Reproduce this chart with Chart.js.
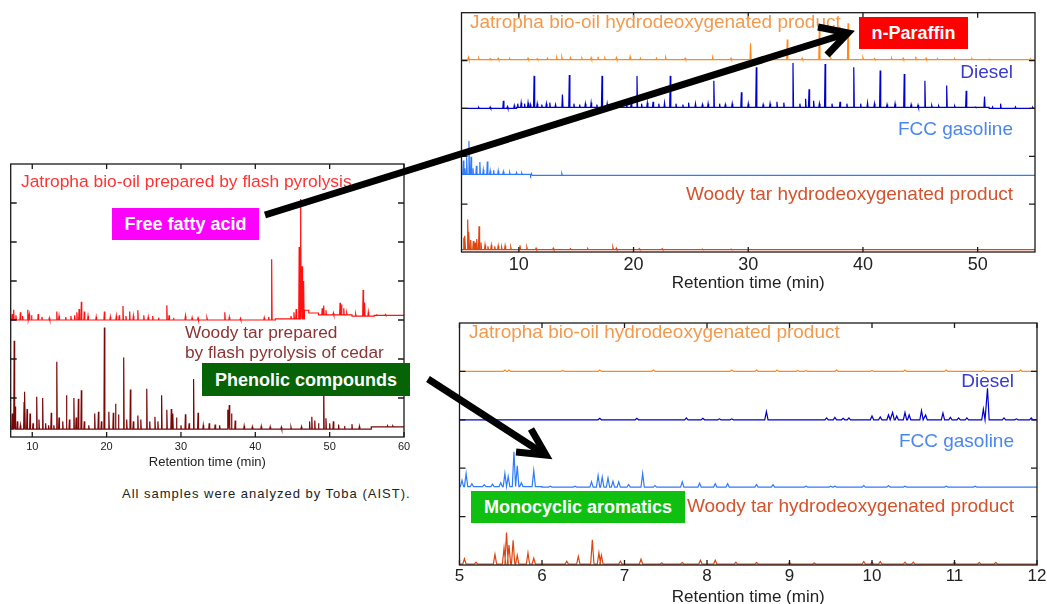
<!DOCTYPE html>
<html lang="en">
<head>
<meta charset="UTF-8">
<title>GC chromatograms: bio-oils, diesel and FCC gasoline</title>
<script src="https://cdn.jsdelivr.net/npm/chart.js"></script>
<style>
  body { margin: 0; width: 1047px; height: 604px; overflow: hidden; background: #fff; position: relative;
         font-family: 'Liberation Sans', Arial, sans-serif; }
  canvas.chart { position: absolute; }
  .lbl { position: absolute; white-space: nowrap; line-height: 1; }
  .box { position: absolute; color: #fff; font-weight: bold; font-size: 18px; line-height: 1;
         display: flex; align-items: center; justify-content: center; white-space: nowrap; }
  svg { position: absolute; left: 0; top: 0; }
</style>
</head>
<body>
  <!-- left panel: flash pyrolysis products -->
  <canvas id="chartA" class="chart" width="420" height="330" style="left:0;top:150px"></canvas>
  <!-- top right: hydrodeoxygenated products vs fuels, 5-55 min -->
  <canvas id="chartB" class="chart" width="597" height="300" style="left:450px;top:0"></canvas>
  <!-- bottom right: same samples, 5-12 min -->
  <canvas id="chartC" class="chart" width="610" height="310" style="left:450px;top:310px"></canvas>

  <div class="lbl" style="left:21px;top:172.5px;font-size:17.4px;color:#ff3333">Jatropha bio-oil prepared by flash pyrolysis</div>
  <div class="lbl" style="left:185px;top:323.5px;font-size:17.3px;color:#8b3535">Woody tar prepared</div>
  <div class="lbl" style="left:185px;top:344px;font-size:17.3px;color:#8b3535">by flash pyrolysis of cedar</div>

  <div class="lbl" style="left:470px;top:11.5px;font-size:19px;color:#f29a4e">Jatropha bio-oil hydrodeoxygenated product</div>
  <div class="lbl" style="right:34px;top:62px;font-size:19px;color:#3a3ad0">Diesel</div>
  <div class="lbl" style="right:34px;top:118.5px;font-size:19px;color:#4a86ee">FCC gasoline</div>
  <div class="lbl" style="right:34px;top:183.5px;font-size:19px;color:#d4522c">Woody tar hydrodeoxygenated product</div>

  <div class="lbl" style="left:469px;top:322px;font-size:19px;color:#f29a4e">Jatropha bio-oil hydrodeoxygenated product</div>
  <div class="lbl" style="right:33px;top:371px;font-size:19px;color:#3a3ad0">Diesel</div>
  <div class="lbl" style="right:33px;top:430.5px;font-size:19px;color:#4a86ee">FCC gasoline</div>
  <div class="lbl" style="right:33px;top:495.5px;font-size:19px;color:#d4522c">Woody tar hydrodeoxygenated product</div>

  <div class="lbl" style="left:122px;top:486.5px;font-size:13px;letter-spacing:1px;color:#222">All samples were analyzed by Toba (AIST).</div>

  <div class="box" style="left:112px;top:208px;width:147px;height:32px;background:#ff00ff">Free fatty acid</div>
  <div class="box" style="left:202px;top:363px;width:208px;height:33px;background:#066306">Phenolic compounds</div>
  <div class="box" style="left:859px;top:17px;width:109px;height:32px;background:#ff0000">n-Paraffin</div>
  <div class="box" style="left:471px;top:491px;width:214px;height:32px;background:#10c010">Monocyclic aromatics</div>

  <svg width="1047" height="604">
    <g stroke="#000" stroke-width="7" fill="none" stroke-linejoin="miter">
      <line x1="265" y1="215" x2="845" y2="34"/>
      <polyline points="818,27 848,33 827,55"/>
      <line x1="428" y1="379" x2="544" y2="454"/>
      <polyline points="531,429 546,455 516,452"/>
    </g>
  </svg>

<script>
// ---- data ----
// each trace: baseline steps [time, level] and peaks [time, apex], y is the stacked signal (a.u.)

// left panel, 7-60 min
const xTicksA = [10, 20, 30, 40, 50, 60];
const yTicksA = [1, 2, 3, 4, 5, 6];
const pyroOilBase = [[7.1, 3.0], [42.7, 3.03], [46.6, 3.25], [47.2, 3.18], [48.5, 3.13], [53, 3.1], [56, 3.12]];
const pyroOilPeaks = [[7.3,3.15],[7.5,3.26],[7.8,3.12],[8.4,3.2],[8.7,3.1],[9.4,3.26],[9.6,3.14],[9.9,3.12],[10.8,3.15],[11.3,3.08],
  [12.3,3.05],[13.3,3.22],[13.6,3.1],[14.5,3.08],[15.2,3.1],[15.7,3.12],[16.0,3.2],[16.3,3.28],[16.6,3.47],[17.0,3.22],[17.5,3.1],
  [18.6,3.08],[19.7,3.22],[20.5,3.08],[21.3,3.1],[21.7,3.12],[22.2,3.36],[22.6,3.1],[23.1,3.22],[23.6,3.1],[24.2,3.25],[25.0,3.12],
  [25.6,3.08],[26.2,3.1],[27.0,3.06],[28.1,3.38],[28.4,3.12],[29.0,3.06],[30.6,3.1],[31.5,3.06],[32.3,3.05],[33.5,3.05],[35.9,3.2],
  [36.5,3.07],[38,3.04],[41.2,3.06],[41.8,3.08],[42.2,4.56],[44.8,3.1],[45.2,3.2],[45.5,3.28],[45.9,4.87],[46.1,6.1],[46.3,4.38],
  [46.5,4.0],[49.0,3.3],[49.2,3.37],[49.5,3.25],[50.5,3.18],[51.4,3.44],[51.6,3.4],[51.9,3.3],[52.3,3.18],[53.5,3.15],[54.5,3.77],
  [54.7,3.45],[55.2,3.2],[56.3,3.15],[57.5,3.14]];
const pyroTarBase = [[7.1, 0.2], [55.6, 0.26]];
const pyroTarPeaks = [[7.3,0.6],[7.57,2.47],[7.7,0.78],[8.0,0.4],[8.4,0.3],[8.9,0.9],[9.0,1.16],[9.3,0.72],[9.7,0.6],[10.1,0.35],
  [10.6,1.03],[10.9,0.45],[11.4,1.0],[11.8,0.35],[12.2,0.3],[12.55,0.62],[12.9,0.3],[13.3,1.93],[13.6,0.5],[14.1,0.4],[14.6,1.07],
  [15.0,0.45],[15.6,1.0],[15.9,0.5],[16.2,0.98],[16.6,1.2],[17.0,0.4],[17.6,0.3],[18.4,0.6],[18.9,0.65],[19.3,0.4],[19.7,2.81],
  [20.3,0.65],[20.9,0.62],[21.2,0.85],[21.6,0.58],[22.3,2.04],[22.7,0.45],[23.2,1.22],[23.6,0.4],[24.2,0.55],[24.6,0.45],[25.4,1.24],
  [25.8,0.4],[26.5,0.52],[26.9,0.4],[27.4,1.07],[28.1,0.7],[28.7,0.72],[28.9,0.6],[29.4,0.5],[30.0,0.3],[30.6,0.58],[31.1,0.35],
  [31.7,1.49],[32.3,0.62],[33.0,0.3],[33.8,0.35],[34.6,0.32],[35.2,0.3],[36.3,0.7],[36.5,0.82],[36.8,0.6],[37.3,0.42],[38.5,0.28],
  [39.6,0.26],[40.8,0.27],[42,0.26],[43.5,0.25],[44.8,0.25],[46.2,0.26],[47.3,0.4],[47.6,0.52],[48.0,0.42],[48.5,0.35],[49.2,1.4],
  [49.5,0.48],[50.0,0.35],[50.5,0.4],[51.2,0.32],[52.0,0.28],[53.0,0.33],[54.0,0.27],[57.8,0.28],[58.5,0.28]];

// top right panel, 5-55 min
const xTicksB = [10, 20, 30, 40, 50];
const yTicksB = [1, 2, 3, 4];
const hdoOilBase = [[5, 4.02]];
const hdoOilPeaks = [[5.6,4.07],[6.5,4.05],[7.5,4.04],[8.2,4.05],[9.2,4.04],[10.8,4.05],[11.6,4.04],[12.5,4.05],[13.3,4.06],[13.75,4.07],
  [14.5,4.06],[15.5,4.05],[16.3,4.06],[16.9,4.08],[17.5,4.05],[18.5,4.06],[19.7,4.08],[20.6,4.05],[22.0,4.05],[22.8,4.06],[24.5,4.05],
  [26.9,4.06],[28.5,4.05],[30.2,4.36],[31.5,4.04],[32.2,4.05],[33.4,4.44],[34.7,4.05],[36.2,4.7],[37.2,4.05],[38.7,4.78],[40.0,4.06],
  [41.0,4.04],[42.5,4.05],[43.5,4.05],[44.6,4.08],[45.5,4.05],[46.5,4.04],[48.0,4.04],[49.5,4.04],[51.0,4.03],[54.6,4.04]];
const dieselBase = [[5, 3.0], [9.8, 3.02], [51, 3.0]];
const dieselPeaks = [[6.5,3.02],[7.5,3.03],[8.65,3.16],[9.0,3.04],[9.6,3.06],[9.9,3.1],[10.2,3.12],[10.5,3.1],[10.8,3.12],[11.0,3.08],
  [11.33,3.68],[11.6,3.1],[12.0,3.08],[12.4,3.1],[12.7,3.12],[13.2,3.08],[13.8,3.29],[14.4,3.7],[14.8,3.1],[15.3,3.08],[15.8,3.1],
  [16.3,3.12],[16.8,3.08],[17.25,3.68],[17.7,3.1],[18.2,3.08],[18.8,3.1],[19.4,3.08],[19.8,3.12],[20.3,3.68],[20.7,3.1],[21.2,3.12],
  [21.7,3.14],[22.2,3.1],[22.7,3.12],[23.2,3.68],[23.7,3.1],[24.3,3.08],[24.8,3.12],[25.4,3.1],[26.0,3.08],[26.5,3.1],[27.0,3.58],
  [27.5,3.1],[28.0,3.08],[28.6,3.1],[29.4,3.34],[30.0,3.1],[30.7,3.86],[31.3,3.08],[31.9,3.1],[32.5,3.14],[33.1,3.12],[33.9,3.95],
  [34.5,3.1],[35.0,3.2],[35.3,3.4],[35.7,3.16],[36.2,3.1],[36.7,3.93],[37.3,3.1],[38.0,3.14],[38.6,3.1],[39.2,3.86],[39.8,3.1],
  [40.4,3.12],[41.0,3.1],[41.5,3.79],[42.1,3.08],[42.8,3.1],[43.6,3.72],[44.2,3.08],[44.8,3.07],[45.4,3.58],[46.0,3.06],[46.6,3.05],
  [47.3,3.48],[48.0,3.05],[49.0,3.37],[49.8,3.03],[50.6,3.25],[51.3,3.03],[52.0,3.1],[53.3,3.03],[54.8,3.02]];
const fccBase = [[5, 1.62], [11, 1.6]];
const fccPeaks = [[5.16,1.91],[5.3,1.75],[5.45,1.98],[5.65,2.32],[5.83,1.99],[6.0,1.75],[6.3,1.8],[6.6,1.88],[6.9,1.72],[7.25,1.89],
  [7.5,1.7],[7.8,1.71],[8.2,1.7],[8.65,1.68],[9.2,1.66],[9.8,1.66],[10.25,1.65],[11.1,1.64],[13.75,1.64]];
const woodyHdoBase = [[5, 0.05]];
const woodyHdoPeaks = [[5.2,0.3],[5.3,0.34],[5.54,0.68],[5.65,0.42],[5.8,0.25],[6.03,0.23],[6.2,0.2],[6.33,0.27],[6.53,0.54],[6.7,0.2],
  [7.05,0.15],[7.3,0.12],[7.6,0.14],[7.9,0.12],[8.2,0.13],[8.5,0.1],[8.8,0.13],[9.3,0.1],[10.1,0.14],[10.7,0.1],[11.5,0.08],[13.0,0.08],
  [14.5,0.07],[16,0.07],[18.2,0.1],[18.5,0.08],[20.5,0.07],[22.5,0.07],[26,0.06],[28.5,0.06]];

// bottom right panel, 5-12 min
const xTicksC = [5, 6, 7, 8, 9, 10, 11, 12];
const yTicksC = [1, 2, 3, 4];
const zoomOilBase = [[5, 4.0]];
const zoomOilPeaks = [[5.55,4.03],[5.6,4.03],[6.25,4.02],[6.7,4.03],[7.35,4.03],[8.3,4.03],[8.6,4.03],[8.85,4.03],[9.1,4.02],[9.2,4.02],
  [9.57,4.03],[10.0,4.02],[10.4,4.03],[10.9,4.03],[11.35,4.02],[11.8,4.03]];
const zoomDieselBase = [[5, 3.0]];
const zoomDieselPeaks = [[6.7,3.03],[7.15,3.03],[7.75,3.04],[7.95,3.03],[8.15,3.02],[8.3,3.02],[8.72,3.17],[9.45,3.04],[9.55,3.05],
  [9.65,3.03],[9.72,3.04],[10.0,3.08],[10.1,3.06],[10.2,3.1],[10.25,3.15],[10.3,3.08],[10.4,3.15],[10.45,3.1],[10.6,3.19],[10.65,3.1],
  [10.86,3.14],[10.95,3.05],[11.05,3.04],[11.15,3.04],[11.35,3.22],[11.4,3.65],[11.6,3.04],[11.75,3.02],[11.93,3.04]];
const zoomFccBase = [[5, 1.62], [6.0, 1.61]];
const zoomFccPeaks = [[5.03,1.75],[5.08,1.89],[5.15,1.68],[5.3,1.66],[5.4,1.67],[5.5,1.7],[5.55,1.89],[5.59,1.83],[5.66,2.34],[5.7,2.05],
  [5.75,1.7],[5.9,1.95],[6.1,1.63],[6.4,1.63],[6.6,1.72],[6.68,1.85],[6.73,1.82],[6.8,1.8],[6.86,1.73],[6.93,1.72],[7.05,1.66],[7.22,1.89],
  [7.37,1.64],[7.7,1.72],[7.91,1.69],[8.1,1.68],[8.25,1.68],[8.6,1.66],[8.8,1.66],[9.2,1.63],[9.5,1.63],[9.55,1.63],[9.9,1.64],[10.2,1.64],
  [10.4,1.63],[10.9,1.63],[11.25,1.63]];
const zoomWoodyBase = [[5, 0.02]];
const zoomWoodyPeaks = [[5.06,0.13],[5.2,0.06],[5.43,0.22],[5.54,0.35],[5.57,0.67],[5.6,0.41],[5.65,0.51],[5.7,0.2],[5.83,0.25],[5.9,0.14],
  [6.3,0.08],[6.44,0.18],[6.61,0.52],[6.69,0.25],[6.72,0.2],[6.95,0.08],[7.2,0.12],[7.45,0.04],[7.7,0.05],[7.92,0.1],[8.1,0.1],[8.35,0.06],
  [8.6,0.05],[9.0,0.05],[9.3,0.04],[9.9,0.07],[10.0,0.06],[10.1,0.07],[10.4,0.06],[10.5,0.06],[11.0,0.06],[11.3,0.05],[11.5,0.05]];

Chart.defaults.font.family = "'Liberation Sans', Arial, sans-serif";
Chart.defaults.color = '#222';

// baseline level in effect at time t (step lookup)
function baseAt(base, t) {
  let b = base[0][1];
  base.forEach(([t0, v]) => { if (t0 <= t) b = v; });
  return b;
}

// turn baseline + peak apexes into a line of narrow spikes
function trace(base, peaks, xmin, xmax, w) {
  const pts = [{x: xmin, y: baseAt(base, xmin)}];
  const events = base.slice(1).map(([t, v]) => ({t, step: true}))
    .concat(peaks.map(([t, v]) => ({t, v})))
    .sort((a, b) => a.t - b.t);
  events.forEach(e => {
    if (e.step) {
      pts.push({x: e.t, y: baseAt(base, e.t - 1e-6)});
      pts.push({x: e.t, y: baseAt(base, e.t)});
    } else {
      const b = baseAt(base, e.t);
      pts.push({x: e.t - w, y: b}, {x: e.t, y: e.v}, {x: e.t + w, y: b});
    }
  });
  pts.push({x: xmax, y: baseAt(base, xmax)});
  return pts;
}

// frame with inward ticks on all four sides
const frameTicks = {
  id: 'frameTicks',
  afterDraw(chart, args, opts) {
    const {ctx, chartArea: a, scales: {x, y}} = chart;
    ctx.save();
    ctx.strokeStyle = '#1a1a1a';
    ctx.lineWidth = 1.3;
    ctx.strokeRect(a.left, a.top, a.right - a.left, a.bottom - a.top);
    ctx.beginPath();
    opts.xTicks.forEach(v => {
      const px = x.getPixelForValue(v);
      ctx.moveTo(px, a.bottom); ctx.lineTo(px, a.bottom - 5);
      ctx.moveTo(px, a.top); ctx.lineTo(px, a.top + 5);
    });
    opts.yTicks.forEach(v => {
      const py = y.getPixelForValue(v);
      ctx.moveTo(a.left, py); ctx.lineTo(a.left + 6, py);
      ctx.moveTo(a.right, py); ctx.lineTo(a.right - 6, py);
    });
    ctx.stroke();
    ctx.restore();
  }
};

function series(data, color) {
  return { data, borderColor: color, borderWidth: 1.2, pointRadius: 0, showLine: true, fill: false, tension: 0 };
}

function makeChart(id, p) {
  return new Chart(document.getElementById(id), {
    type: 'scatter',
    data: { datasets: p.datasets },
    plugins: [frameTicks],
    options: {
      responsive: false,
      animation: false,
      layout: { padding: p.padding },
      plugins: { legend: { display: false }, tooltip: { enabled: false }, frameTicks: { xTicks: p.xTicks, yTicks: p.yTicks } },
      scales: {
        x: {
          type: 'linear', min: p.xmin, max: p.xmax,
          grid: { display: false, drawTicks: false }, border: { display: false },
          ticks: { font: { size: p.tickSize }, padding: p.tickPad, maxRotation: 0, autoSkip: false },
          afterBuildTicks: s => { s.ticks = p.xTicks.map(v => ({ value: v })); },
          afterFit: s => { s.height = p.axisH; },
          title: { display: true, text: 'Retention time (min)', font: { size: p.titleSize }, padding: { top: 0, bottom: p.titlePad } }
        },
        y: { type: 'linear', display: false, min: 0, max: p.ymax }
      }
    }
  });
}

makeChart('chartA', {
  xmin: 7.1, xmax: 60, ymax: 7, xTicks: xTicksA, yTicks: yTicksA,
  padding: { left: 10.7, right: 16, top: 14, bottom: 0 },
  axisH: 43, tickSize: 11, tickPad: 3, titleSize: 13, titlePad: 10,
  datasets: [
    series(trace(pyroOilBase, pyroOilPeaks, 7.1, 60, 0.06), '#ff1111'),
    series(trace(pyroTarBase, pyroTarPeaks, 7.1, 60, 0.06), '#7a0606')
  ]
});

makeChart('chartB', {
  xmin: 5, xmax: 55, ymax: 5, xTicks: xTicksB, yTicks: yTicksB,
  padding: { left: 11.5, right: 12, top: 12.7, bottom: 0 },
  axisH: 48, tickSize: 18, tickPad: 2, titleSize: 17, titlePad: 6.5,
  datasets: [
    series(trace(hdoOilBase, hdoOilPeaks, 5, 55, 0.05), '#ff8a1a'),
    series(trace(dieselBase, dieselPeaks, 5, 55, 0.05), '#0000cc'),
    series(trace(fccBase, fccPeaks, 5, 55, 0.05), '#2f7bff'),
    series(trace(woodyHdoBase, woodyHdoPeaks, 5, 55, 0.05), '#e0440e')
  ]
});

makeChart('chartC', {
  xmin: 5, xmax: 12, ymax: 5, xTicks: xTicksC, yTicks: yTicksC,
  padding: { left: 9.5, right: 23, top: 13, bottom: 0 },
  axisH: 55, tickSize: 17, tickPad: 1.5, titleSize: 17, titlePad: 12.8,
  datasets: [
    series(trace(zoomOilBase, zoomOilPeaks, 5, 12, 0.02), '#ff8a1a'),
    series(trace(zoomDieselBase, zoomDieselPeaks, 5, 12, 0.02), '#0000cc'),
    series(trace(zoomFccBase, zoomFccPeaks, 5, 12, 0.02), '#2f7bff'),
    series(trace(zoomWoodyBase, zoomWoodyPeaks, 5, 12, 0.02), '#e0440e')
  ]
});
</script>
</body>
</html>
